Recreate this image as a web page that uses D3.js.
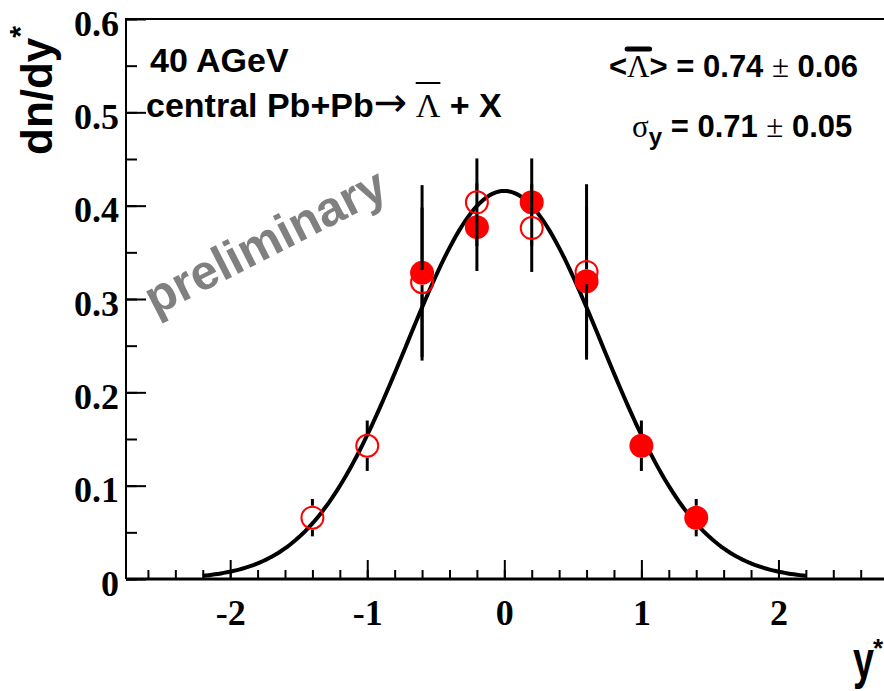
<!DOCTYPE html>
<html>
<head>
<meta charset="utf-8">
<script src="https://cdnjs.cloudflare.com/ajax/libs/d3/7.8.5/d3.min.js"></script>
<style>
body { margin: 0; background: #fff; }
svg { display: block; background: #fff; }
.sans { font-family: "Liberation Sans", Arial, Helvetica, sans-serif; font-weight: bold; }
.serif { font-family: "Liberation Serif", "Times New Roman", serif; font-weight: normal; }
</style>
</head>
<body>
<div id="chart"></div>
<script>
// Lambda-bar rapidity spectrum, 40 AGeV Pb+Pb

// Data
// =======================================
// measured points (filled) and their reflection at y*=0 (open)
var measRapidity = [-0.6, -0.2, 0.2, 0.6, 1.0, 1.4];
var measYield = [0.328, 0.377, 0.4036, 0.319, 0.1428, 0.0657];
var measErr = [0.094, 0.047, 0.047, 0.08, 0.027, 0.02];

var reflRapidity = [-1.4, -1.0, -0.6, -0.2, 0.2, 0.6];
var reflYield = [0.0657, 0.1428, 0.318, 0.4036, 0.376, 0.329];
var reflErr = [0.02, 0.027, 0.08, 0.047, 0.047, 0.094];

// tick labels
var xTicks = [-2, -1, 0, 1, 2];
var xTickLabels = ["-2", "-1", "0", "1", "2"];
var yTicks = [0, 0.1, 0.2, 0.3, 0.4, 0.5, 0.6];
var yTickLabels = ["0", "0.1", "0.2", "0.3", "0.4", "0.5", "0.6"];

// gaussian fit result shown on the plot
var fitYield = 0.74;
var fitSigma = 0.71;
var fitRange = [-2.2, 2.2];

// Housekeeping
// =======================================
var width = 884;
var height = 691;
var padLeft = 126, padRight = 884, padTop = 19, padBottom = 579;
var markR = 12;

var svg = d3.select("#chart")
    .append("svg")
    .attr("width", width)
    .attr("height", height);

var xScale = d3.scaleLinear().domain([-2.76, 2.77]).range([padLeft, padRight]);
var yScale = d3.scaleLinear().domain([0, 0.6]).range([padBottom, padTop]);

// Axes
// =======================================
// minor ticks first, majors on top
var xMinor = d3.range(-13, 14).map(function(d) { return d / 5; });
svg.append("g")
    .attr("transform", "translate(0," + padBottom + ")")
    .call(d3.axisBottom(xScale).tickValues(xMinor).tickSize(-9).tickSizeOuter(0).tickFormat(""))
    .call(function(g) { g.select(".domain").remove(); })
    .selectAll("line").attr("stroke", "#000").attr("stroke-width", 2);

var xAxis = svg.append("g")
    .attr("transform", "translate(0," + padBottom + ")")
    .call(d3.axisBottom(xScale).tickValues(xTicks).tickSize(-19).tickSizeOuter(0)
        .tickFormat(function(d, i) { return xTickLabels[i]; }));
xAxis.select(".domain").remove();
xAxis.selectAll("line").attr("stroke", "#000").attr("stroke-width", 2);
xAxis.selectAll("text")
    .attr("class", "serif")
    .attr("y", 46).attr("dy", null)
    .style("font-weight", "bold")
    .style("font-size", "36px")
    .attr("fill", "#000");

var yMinor = d3.range(0, 13).map(function(d) { return d / 20; });
svg.append("g")
    .attr("transform", "translate(" + padLeft + ",0)")
    .call(d3.axisLeft(yScale).tickValues(yMinor).tickSize(-11).tickSizeOuter(0).tickFormat(""))
    .call(function(g) { g.select(".domain").remove(); })
    .selectAll("line").attr("stroke", "#000").attr("stroke-width", 2);

var yAxis = svg.append("g")
    .attr("transform", "translate(" + padLeft + ",0)")
    .call(d3.axisLeft(yScale).tickValues(yTicks).tickSize(-20).tickSizeOuter(0)
        .tickFormat(function(d, i) { return yTickLabels[i]; }));
yAxis.select(".domain").remove();
yAxis.selectAll("line").attr("stroke", "#000").attr("stroke-width", 2);
yAxis.selectAll("text")
    .attr("class", "serif")
    .attr("x", -7).attr("dy", "0.45em")
    .style("font-weight", "bold")
    .style("font-size", "36px")
    .attr("fill", "#000");

// frame
svg.append("path")
    .attr("d", "M" + padRight + "," + padTop + "H" + padLeft + "V" + padBottom)
    .attr("fill", "none").attr("stroke", "#000").attr("stroke-width", 2);
svg.append("line")
    .attr("x1", padLeft).attr("x2", padRight).attr("y1", padBottom).attr("y2", padBottom)
    .attr("stroke", "#000").attr("stroke-width", 3);

// Fit curve
// =======================================
var amp = fitYield / (Math.sqrt(2 * Math.PI) * fitSigma);
var curveX = d3.range(0, 201).map(function(i) { return fitRange[0] + i * (fitRange[1] - fitRange[0]) / 200; });
var line = d3.line()
    .x(function(d) { return xScale(d); })
    .y(function(d) { return yScale(amp * Math.exp(-d * d / (2 * fitSigma * fitSigma))); });
svg.append("path")
    .datum(curveX)
    .attr("d", line)
    .attr("fill", "none")
    .attr("stroke", "#000")
    .attr("stroke-width", 4);

// Points with error bars (bars leave a gap for the marker)
// =======================================
function drawBars(xs, ys, es) {
    var g = svg.append("g");
    xs.forEach(function(x, i) {
        var cx = xScale(x), cy = yScale(ys[i]);
        g.append("line")
            .attr("x1", cx).attr("x2", cx)
            .attr("y1", yScale(ys[i] + es[i])).attr("y2", cy - markR)
            .attr("stroke", "#000").attr("stroke-width", 3);
        g.append("line")
            .attr("x1", cx).attr("x2", cx)
            .attr("y1", cy + markR).attr("y2", yScale(ys[i] - es[i]))
            .attr("stroke", "#000").attr("stroke-width", 3);
    });
}

drawBars(measRapidity, measYield, measErr);
svg.append("g").selectAll("circle")
    .data(measRapidity)
    .enter().append("circle")
    .attr("cx", function(d) { return xScale(d); })
    .attr("cy", function(d, i) { return yScale(measYield[i]); })
    .attr("r", markR)
    .attr("fill", "#ff0000");

drawBars(reflRapidity, reflYield, reflErr);
svg.append("g").selectAll("circle")
    .data(reflRapidity)
    .enter().append("circle")
    .attr("cx", function(d) { return xScale(d); })
    .attr("cy", function(d, i) { return yScale(reflYield[i]); })
    .attr("r", markR - 1)
    .attr("fill", "none")
    .attr("stroke", "#ff0000")
    .attr("stroke-width", 2);

// Labels
// =======================================
// y axis title
var yTitle = svg.append("text")
    .attr("class", "sans")
    .attr("transform", "translate(52,155)rotate(-90)")
    .style("font-size", "44px");
yTitle.append("tspan").text("dn/dy");
yTitle.append("tspan").attr("dy", -22).style("font-size", "30px").text("*");

// x axis title
svg.append("text")
    .attr("class", "sans")
    .attr("transform", "translate(853,678)scale(0.7,1)")
    .style("font-size", "54px")
    .text("y");
svg.append("text")
    .attr("class", "sans")
    .attr("x", 873).attr("y", 657)
    .style("font-size", "26px")
    .text("*");

// watermark
svg.append("text")
    .attr("class", "sans")
    .attr("transform", "translate(155,316)rotate(-27)")
    .style("font-size", "49px")
    .attr("fill", "#808080")
    .text("preliminary");

// energy / reaction
svg.append("text")
    .attr("class", "sans")
    .attr("x", 150).attr("y", 72)
    .style("font-size", "34px")
    .text("40 AGeV");

var reac = svg.append("text")
    .attr("x", 146).attr("y", 117)
    .style("font-size", "34px");
reac.append("tspan").attr("class", "sans").text("central Pb+Pb");
reac.append("tspan").style("font-family", "'DejaVu Sans', sans-serif").style("font-size", "40px").attr("dy", -1).text("\u2192");
reac.append("tspan").attr("class", "serif").attr("dy", 1).text(" \u039B");
reac.append("tspan").attr("class", "sans").text(" + X");

// overline over a given character of a text node
function overline(textSel, idx, yPos, sw, ext) {
    var node = textSel.node();
    var ext0 = node.getExtentOfChar(idx);
    svg.append("line")
        .attr("x1", ext0.x - ext).attr("x2", ext0.x + ext0.width + ext)
        .attr("y1", yPos).attr("y2", yPos)
        .attr("stroke", "#000").attr("stroke-width", sw)
        .attr("stroke-linecap", sw > 3 ? "round" : "butt");
}
overline(reac, "central Pb+Pb\u2192 ".length, 83, 2, 0);

// fit parameters
var meanText = svg.append("text")
    .attr("x", 609).attr("y", 77)
    .style("font-size", "31px");
meanText.append("tspan").attr("class", "sans").text("<");
meanText.append("tspan").attr("class", "serif").text("\u039B");
meanText.append("tspan").attr("class", "sans").text("> = 0.74 ");
meanText.append("tspan").attr("class", "serif").text("\u00B1");
meanText.append("tspan").attr("class", "sans").text(" 0.06");
overline(meanText, 1, 49, 5, 0);

var sigText = svg.append("text")
    .attr("x", 632).attr("y", 137)
    .style("font-size", "31px");
sigText.append("tspan").attr("class", "serif").text("\u03C3");
sigText.append("tspan").attr("class", "sans").attr("dy", 8).style("font-size", "24px").text("y");
sigText.append("tspan").attr("class", "sans").attr("dy", -8).text(" = 0.71 ");
sigText.append("tspan").attr("class", "serif").text("\u00B1");
sigText.append("tspan").attr("class", "sans").text(" 0.05");
</script>
</body>
</html>
